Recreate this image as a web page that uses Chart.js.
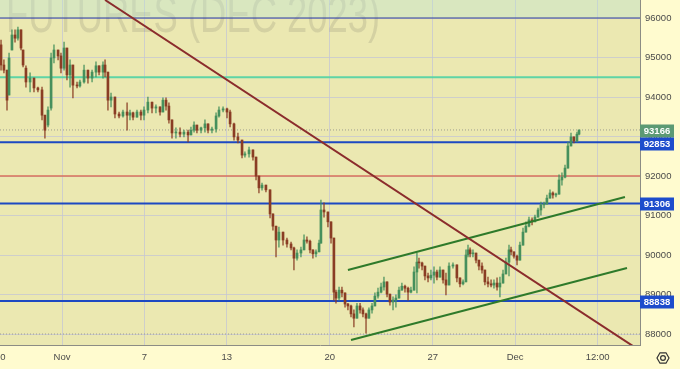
<!DOCTYPE html>
<html>
<head>
<meta charset="utf-8">
<script src="https://cdn.jsdelivr.net/npm/chart.js@4.4.0/dist/chart.umd.min.js"></script>
<style>
  html, body { margin: 0; padding: 0; background: #fffbcf; }
  canvas { display: block; }
</style>
</head>
<body>
<canvas id="myChart" width="680" height="369"></canvas>
<script>
// bar times, in trading days counted from the "Nov" tick
var times = [-2.96,-2.82,-2.67,-2.57,-2.43,-2.28,-2.14,-1.99,-1.89,-1.75,
    -1.55,-1.36,-1.17,-0.97,-0.83,-0.68,-0.53,-0.39,-0.19,-0.05,
    0.10,0.24,0.39,0.53,0.73,0.87,1.07,1.26,1.46,1.65,
    1.80,1.99,2.09,2.23,2.38,2.57,2.77,2.96,3.16,3.30,
    3.45,3.64,3.83,3.98,4.17,4.37,4.56,4.76,4.90,5.05,
    5.19,5.34,5.53,5.73,5.92,6.12,6.26,6.41,6.55,6.75,
    6.94,7.09,7.28,7.48,7.62,7.82,8.01,8.16,8.35,8.54,
    8.74,8.88,9.08,9.27,9.42,9.56,9.71,9.90,10.10,10.24,
    10.39,10.53,10.73,10.92,11.12,11.26,11.41,11.60,11.75,11.89,
    12.04,12.18,12.33,12.48,12.57,12.72,12.91,13.06,13.20,13.30,
    13.45,13.59,13.74,13.88,14.03,14.17,14.32,14.47,14.61,14.76,
    14.90,15.05,15.19,15.34,15.49,15.63,15.78,15.92,16.07,16.21,
    16.36,16.50,16.65,16.80,16.94,17.09,17.23,17.33,17.48,17.62,
    17.77,17.91,18.06,18.20,18.35,18.50,18.64,18.79,18.98,19.17,
    19.32,19.47,19.61,19.71,19.81,19.95,20.10,20.24,20.39,20.53,
    20.68,20.83,20.97,21.12,21.26,21.41,21.55,21.70,21.80,21.94,
    22.09,22.23,22.38,22.52,22.67,22.82,22.96,23.11,23.25,23.40,
    23.54,23.69,23.83,23.98,24.13,24.27,24.42,24.56,24.71,24.85,
    25.00,25.10];

var opens = [95320,94810,94680,94050,95190,95570,95490,95700,95190,94730,
    94380,94480,94230,94180,93540,93290,93720,94990,95190,95040,
    94730,95240,94560,94810,94300,94280,94380,94680,94480,94630,
    94790,94630,94810,94630,93920,94000,93570,93520,93620,93540,
    93600,93490,93620,93540,93670,93870,93720,93750,93620,93920,
    93770,93420,93090,93110,93060,93110,93040,93160,93290,93160,
    93220,93320,93160,93190,93520,93670,93700,93620,93320,92990,
    92910,92530,92560,92660,92480,92000,91700,91770,91650,91040,
    90730,90380,90580,90380,90280,90180,89920,90050,90130,90380,
    90350,90130,90030,90080,90300,91140,91090,90840,90430,89060,
    88910,89110,89040,88760,88710,88510,88400,88710,88610,88510,
    88400,88610,88710,88960,89060,89190,89320,89010,88810,88860,
    88910,89110,89210,89160,89060,89110,89570,89820,89800,89720,
    89470,89420,89490,89570,89440,89620,89370,89240,89720,89750,
    89420,89270,89320,90000,90130,90030,90050,89870,89720,89620,
    89320,89270,89240,89290,89190,89290,89520,89820,90130,90080,
    89970,89870,90250,90580,90730,90890,90840,90960,91140,91270,
    91290,91440,91570,91520,91540,91900,91970,92200,92760,92990,
    92890,93060];

var highs = [95440,94940,94680,95110,95700,95700,95770,95700,95190,94790,
    94610,94480,94250,94250,93540,93750,95110,95320,95190,95110,
    95390,95240,94940,94810,94380,94430,94810,94680,94680,94890,
    94790,94890,94940,94630,94100,94000,93620,93670,93850,93670,
    93620,93670,93670,93750,94000,93870,93800,93750,93980,93980,
    93850,93420,93220,93220,93160,93160,93240,93370,93290,93240,
    93420,93320,93240,93600,93750,93750,93720,93670,93340,93090,
    92910,92610,92730,92660,92480,92000,91820,91770,91650,91040,
    90730,90710,90580,90430,90330,90200,90130,90200,90510,90460,
    90380,90130,90130,90380,91390,91320,91090,90840,90430,89110,
    89190,89190,89040,88780,88730,88610,88780,88780,88660,88530,
    88660,88780,89040,89160,89290,89440,89320,89010,88940,88990,
    89190,89290,89240,89190,89190,89700,90050,89920,89820,89720,
    89540,89620,89700,89620,89700,89620,89540,89800,89800,89750,
    89420,89370,90130,90250,90180,90130,90050,89870,89800,89620,
    89440,89370,89370,89420,89440,89620,89920,90250,90200,90080,
    90000,90330,90680,90840,90960,90940,91010,91190,91340,91340,
    91520,91650,91600,91570,92030,92080,92280,92860,93090,92990,
    93110,93166];

var lows = [94680,94610,93670,94050,95190,95390,95440,95190,94760,94250,
    94130,94130,94130,93420,92960,93240,93670,94860,94940,94610,
    94680,94430,94250,93980,94230,94250,94350,94350,94380,94510,
    94560,94480,94510,93670,93750,93470,93470,93490,93160,93420,
    93420,93490,93420,93420,93600,93600,93600,93540,93620,93670,
    93340,92960,92960,92990,92990,92860,93040,93110,93090,93090,
    93110,93090,93090,93110,93490,93620,93470,93240,92910,92840,
    92460,92480,92480,92400,91900,91570,91640,91600,90940,90630,
    89950,90200,90250,90200,90130,89620,89870,89950,90130,90300,
    90050,89920,89950,90080,90300,90960,90710,90300,88860,88780,
    88860,88940,88680,88610,88430,88180,88400,88530,88430,88020,
    88400,88530,88710,88910,89040,89110,88940,88730,88610,88680,
    88910,89110,89060,88860,89040,89110,89040,89670,89620,89370,
    89320,89370,89290,89370,89440,89290,88990,89240,89670,89320,
    89190,89240,89320,89950,89950,89950,89800,89620,89540,89240,
    89190,89190,89160,89110,88940,89290,89520,89470,90000,89920,
    89750,89870,90250,90580,90710,90760,90840,90960,91010,91190,
    91290,91440,91440,91470,91540,91770,91950,92200,92760,92840,
    92860,93040];

var closes = [94810,94680,93920,94990,95570,95490,95700,95240,94810,94380,
    94480,94230,94180,93540,93160,93670,94990,95190,95040,94730,
    95240,94560,94810,94300,94280,94380,94680,94480,94630,94790,
    94630,94810,94630,93920,94000,93570,93520,93620,93540,93600,
    93490,93620,93540,93670,93870,93720,93750,93620,93920,93770,
    93420,93090,93110,93060,93110,93040,93160,93290,93160,93220,
    93320,93160,93190,93520,93670,93700,93620,93320,92990,92910,
    92530,92560,92660,92480,92000,91700,91770,91650,91040,90730,
    90380,90580,90380,90280,90180,89920,90050,90130,90380,90350,
    90130,90030,90080,90300,91140,91090,90840,90430,89060,88910,
    89110,89040,88760,88710,88510,88400,88710,88610,88510,88400,
    88610,88710,88960,89060,89190,89320,89010,88810,88860,88910,
    89110,89210,89160,89060,89110,89570,89820,89800,89720,89470,
    89420,89490,89570,89440,89620,89370,89240,89720,89750,89420,
    89270,89320,90000,90130,90030,90050,89870,89720,89620,89320,
    89270,89240,89290,89190,89290,89520,89820,90130,90080,89970,
    89870,90250,90580,90730,90890,90840,90960,91140,91270,91290,
    91440,91570,91520,91540,91900,91970,92200,92760,92990,92890,
    93060,93166];

var xTickDays = [-3, 0, 4, 8, 13, 18, 22, 26];
var xTickLabels = ["30", "Nov", "7", "13", "20", "27", "Dec", "12:00"];
var yTicks = [88000, 89000, 90000, 91000, 92000, 93000, 94000, 95000, 96000];

var levelPrices = [96000, 94500, 92853, 92000, 91306, 88838];
var dottedPrices = [93166, 88000];
var tagPrices = [93166, 92853, 91306, 88838];
var zoneFloor = 96000;

var brownLineDays = [2.09, 27.72];
var brownLinePrices = [96456, 87695];
var upperChannelDays = [13.88, 27.33];
var upperChannelPrices = [89619, 91468];
var lowerChannelDays = [14.03, 27.43];
var lowerChannelPrices = [87847, 89670];

var xMin = -3.01, xMax = 28.06;
var yMin = 87722, yMax = 96456;

// styles
var upColor = '#46905c';
var downColor = '#8a3d24';
var gridColor = 'rgba(196,198,212,0.75)';
var axisText = '#4a4a4a';
var fontFamily = "'Liberation Sans', Arial, sans-serif";
var levelColors = ['#2c3c9c', '#5ed4a6', '#1d49c2', '#d8705c', '#1d49c2', '#1d49c2'];
var levelWidths = [1, 2, 2, 1.5, 2, 2];
var tagColors = ['#5c9a74', '#1d4ccc', '#1d4ccc', '#1d4ccc'];

var candleColors = times.map(function (t, i) {
    return closes[i] >= opens[i] ? upColor : downColor;
});
var wickColors = times.map(function (t, i) {
    return closes[i] >= opens[i] ? 'rgba(70,144,92,0.75)' : 'rgba(138,61,36,0.75)';
});

function flat(v) {
    return [{ x: xMin, y: v }, { x: xMax, y: v }];
}
function seg(days, prices) {
    return days.map(function (d, i) { return { x: d, y: prices[i] }; });
}

var datasets = [];

datasets.push({
    type: 'line', data: flat(zoneFloor), fill: 'end',
    backgroundColor: 'rgba(190,230,215,0.38)', borderWidth: 0, pointRadius: 0, order: 30
});

levelPrices.forEach(function (v, i) {
    datasets.push({
        type: 'line', data: flat(v), borderColor: levelColors[i], borderWidth: levelWidths[i],
        pointRadius: 0, fill: false, order: 10
    });
});

dottedPrices.forEach(function (v) {
    datasets.push({
        type: 'line', data: flat(v), borderColor: '#9c9c90', borderWidth: 1, borderDash: [1, 2],
        pointRadius: 0, fill: false, order: 12
    });
});

datasets.push({
    type: 'bar', data: times.map(function (t, i) { return { x: t, y: [lows[i], highs[i]] }; }),
    backgroundColor: wickColors, barThickness: 1, barPercentage: 1, categoryPercentage: 1,
    grouped: false, order: 5
});
datasets.push({
    type: 'bar', data: times.map(function (t, i) { return { x: t, y: [opens[i], closes[i]] }; }),
    backgroundColor: candleColors, barThickness: 2, barPercentage: 1, categoryPercentage: 1,
    grouped: false, minBarLength: 1, order: 4
});

datasets.push({
    type: 'line', data: seg(brownLineDays, brownLinePrices), borderColor: '#8b2c2c', borderWidth: 2,
    pointRadius: 0, fill: false, order: 1
});
datasets.push({
    type: 'line', data: seg(upperChannelDays, upperChannelPrices), borderColor: '#2e7a2a', borderWidth: 2,
    pointRadius: 0, fill: false, order: 1
});
datasets.push({
    type: 'line', data: seg(lowerChannelDays, lowerChannelPrices), borderColor: '#2e7a2a', borderWidth: 2,
    pointRadius: 0, fill: false, order: 1
});

var decor = {
    id: 'decor',
    beforeDraw: function (chart) {
        var ctx = chart.ctx, a = chart.chartArea;
        ctx.save();
        ctx.fillStyle = '#fffbcf';
        ctx.fillRect(0, 0, chart.width, chart.height);
        ctx.fillStyle = '#ebe8b1';
        ctx.fillRect(a.left, a.top, a.right - a.left, a.bottom - a.top);
        ctx.restore();
    },
    beforeDatasetsDraw: function (chart) {
        var ctx = chart.ctx, a = chart.chartArea;
        ctx.save();
        ctx.beginPath();
        ctx.rect(a.left, a.top, a.right - a.left, a.bottom - a.top);
        ctx.clip();
        ctx.translate(a.left + 6, a.top + 32);
        ctx.scale(0.70, 1);
        ctx.font = "52px " + fontFamily;
        ctx.fillStyle = 'rgba(80,80,80,0.15)';
        ctx.fillText('FUTURES (DEC 2023)', 0, 0);
        ctx.restore();
    },
    afterDraw: function (chart) {
        var ctx = chart.ctx, a = chart.chartArea, ys = chart.scales.y;
        ctx.save();
        var prevBottom = -100;
        tagPrices.forEach(function (v, i) {
            var py = Math.round(ys.getPixelForValue(v)) + 1;
            var top = py - 6.5;
            if (top < prevBottom) top = prevBottom;
            prevBottom = top + 13;
            ctx.fillStyle = tagColors[i];
            ctx.fillRect(a.right, top, 34, 13);
            ctx.fillStyle = '#ffffff';
            ctx.font = 'bold 9.5px ' + fontFamily;
            ctx.textAlign = 'center';
            ctx.textBaseline = 'middle';
            ctx.fillText(String(v), a.right + 17, top + 7);
        });
        // settings icon
        var cx = a.right + 23, cy = a.bottom + 13, r = 6;
        ctx.strokeStyle = '#333333';
        ctx.lineWidth = 1.2;
        ctx.beginPath();
        for (var k = 0; k < 6; k++) {
            var ang = Math.PI / 3 * k;
            var px = cx + r * Math.cos(ang), py2 = cy + r * Math.sin(ang);
            if (k === 0) ctx.moveTo(px, py2); else ctx.lineTo(px, py2);
        }
        ctx.closePath();
        ctx.stroke();
        ctx.beginPath();
        ctx.arc(cx, cy, 2.4, 0, Math.PI * 2);
        ctx.stroke();
        ctx.restore();
    }
};

var ctx = document.getElementById("myChart").getContext('2d');

var myChart = new Chart(ctx, {
    type: 'bar',
    data: { datasets: datasets },
    options: {
        responsive: false,
        animation: false,
        devicePixelRatio: 1,
        layout: { padding: 0 },
        plugins: { legend: { display: false }, tooltip: { enabled: false } },
        scales: {
            x: {
                type: 'linear', min: xMin, max: xMax, offset: false,
                grid: {
                    offset: false,
                    color: function (c) { return c.index === 0 ? 'rgba(0,0,0,0)' : gridColor; },
                    drawTicks: false
                },
                border: { color: '#8c8c84', width: 1 },
                ticks: {
                    autoSkip: false, maxRotation: 0, padding: 7, color: axisText,
                    font: { family: fontFamily, size: 9.5 },
                    callback: function (v, i) { return xTickLabels[i]; }
                },
                afterBuildTicks: function (s) {
                    s.ticks = xTickDays.map(function (v) { return { value: v }; });
                },
                afterFit: function (s) { s.height = 24; s.paddingLeft = 0; s.paddingRight = 0; }
            },
            y: {
                position: 'right', min: yMin, max: yMax,
                grid: { color: gridColor, drawTicks: false },
                border: { color: '#8c8c84', width: 1 },
                ticks: {
                    padding: 5, color: axisText,
                    font: { family: fontFamily, size: 9.5 },
                    callback: function (v) { return String(v); }
                },
                afterBuildTicks: function (s) {
                    s.ticks = yTicks.map(function (v) { return { value: v }; });
                },
                afterFit: function (s) { s.width = 40; s.paddingTop = 0; s.paddingBottom = 0; }
            }
        }
    },
    plugins: [decor]
});
</script>
</body>
</html>
